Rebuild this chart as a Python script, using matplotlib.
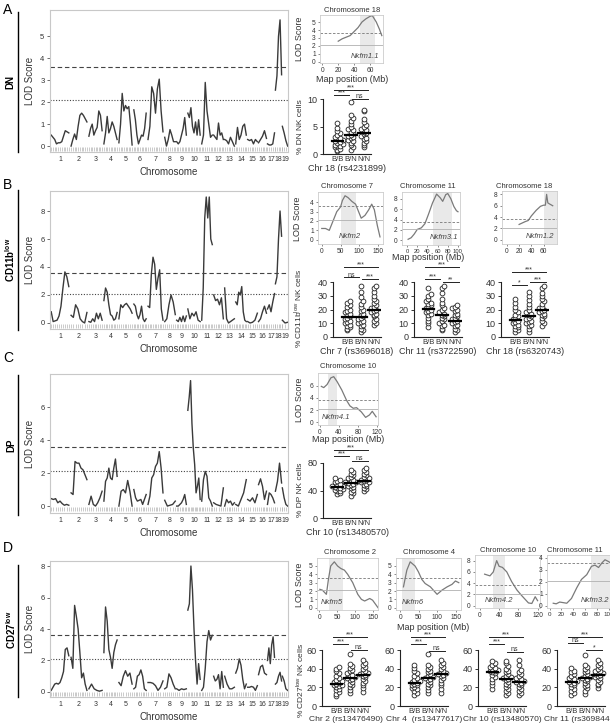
import numpy as np
import matplotlib.pyplot as plt
from matplotlib.lines import Line2D

plt.rcParams['font.family'] = ['Liberation Sans', 'DejaVu Sans']

# ---- genome scan data (LOD sampled evenly along each chromosome) ----
chrom_names = [str(i) for i in range(1, 20)]
chrom_size = [20, 18, 15, 15, 15, 14, 17, 12, 11, 14, 12, 11, 11, 12, 11, 9, 8, 7, 6]

dn_lod = [
    [0.5, 0.4, 0.3, 0.1, 0.15, 0.15, 0.2, 0.45, 0.7, 0.65, 0.6],
    [0.0, 0.3, 0.55, 0.3, 0.9, 1.4, 1.5, 1.4, 1.25, 1.1],
    [0.45, 0.8, 1.0, 0.5, 0.7, 0.85, 1.6, 1.4, 0.7],
    [0.1, 0.6, 1.35, 0.6, 0.8, 1.1, 0.9, 0.6, 0.3],
    [0.15, 1.0, 2.4, 1.6, 1.85, 1.7, 1.8, 1.0, 0.05],
    [1.65, 1.2, 0.5, 0.1, 0.3, 0.5, 0.45, 0.8, 1.5],
    [0.3, 0.9, 2.7, 2.4, 1.5, 2.6, 3.05, 1.6, 0.65],
    [0.4, 0.0, 0.3, 0.75, 0.5, 0.2, 0.2],
    [0.2, 0.1, 0.2, 0.5, 0.8, 1.3, 0.5],
    [1.5, 1.3, 1.75, 0.9, 0.6, 1.1, 0.5, 1.2, 0.5],
    [0.1, 0.5, 2.9, 1.6, 1.0, 0.4, 0.5],
    [0.5, 0.4, 0.3, 1.05, 0.5, 0.6, 0.3],
    [0.3, 0.25, 0.1, 0.4, 0.2, 0.0],
    [0.1, 0.85, 0.3, 0.5, 0.9, 1.0, 0.5],
    [0.3, 0.25, 0.3, 0.1, 0.3, 0.2],
    [0.15, 0.3, 0.45, 0.7, 0.35],
    [0.1, 0.05, 0.05, 0.1, 0.6],
    [2.55, 3.2, 5.0, 5.75, 3.25],
    [0.9, 0.6, 0.25, 0.0],
]

cd11b_lod = [
    [0.8, 0.1, 0.15, 0.2, 0.5, 1.2, 2.5, 3.65, 3.3, 2.6],
    [0.55, 0.4, 1.3, 1.0, 0.3, 0.1, 0.0, 0.75],
    [0.1, 0.05, 0.3, 0.1, 0.7, 0.3, 0.7, 0.2],
    [1.6, 2.5, 2.2, 1.3, 0.6, 0.5, 0.2, 0.3, 0.75],
    [0.3, 1.3, 1.1, 1.3, 1.4, 1.2, 1.0, 0.7],
    [1.35, 1.2, 0.6, 0.3, 0.6, 1.2, 0.3, 0.1, 0.3],
    [1.2, 1.1, 3.5, 4.7, 4.2, 2.4, 3.2, 3.8, 1.0, 0.2],
    [0.1, 0.3, 1.3, 2.0, 1.5, 0.6],
    [0.2, 0.1, 0.4, 0.1, 0.5, 0.1, 0.5],
    [1.0, 0.3, 0.7, 0.5, 0.8, 0.2, 0.1],
    [0.2, 2.5, 7.5, 9.0, 7.5, 9.0, 6.0, 5.6],
    [2.0, 1.6, 1.7, 1.3, 1.8, 0.3],
    [2.5, 0.3, 0.0, 0.1, 0.2, 0.3],
    [1.5, 1.3, 2.2, 2.0, 2.6, 0.8, 0.2, 0.1],
    [0.1, 0.0, 0.05, 0.2, 0.7],
    [0.1, 0.3, 0.8, 1.2, 0.7],
    [1.0, 1.3, 0.8, 1.5, 2.1],
    [2.8, 3.3, 6.0, 8.0, 6.2],
    [0.2, 0.0, 0.05],
]

dp_lod = [
    [0.45, 0.4, 0.45, 0.2, 0.3, 0.15, 0.05, 0.1, 0.05],
    [0.8, 0.7, 2.7, 2.6, 2.6, 2.3, 2.2, 1.9, 1.6],
    [0.1, 0.6, 0.1, 0.0, 0.2, 0.5, 0.9],
    [0.3, 1.5, 1.7, 2.3, 1.7, 1.6, 2.3, 2.85, 1.8],
    [0.0, 0.9, 1.0, 0.8, 1.55, 0.9, 0.0],
    [1.0, 0.5, 0.3, 0.35, 0.4, 0.1, 0.4, 0.7],
    [0.1, 0.6, 1.7, 1.9, 2.4, 2.6, 3.3, 2.3, 0.8],
    [0.35, 0.0, 0.05, 0.1, 0.3],
    [0.0, 0.0, 0.1, 0.2, 0.4, 0.7, 0.1],
    [5.8, 6.6, 7.6, 5.0, 3.5, 2.5, 0.8, 1.2, 1.7, 0.4],
    [0.3, 1.6, 2.1, 1.8, 0.5, 0.3, 0.0],
    [0.2, 0.1, 0.05, 0.0, 1.1],
    [0.0, 0.4, 0.2, 0.3, 0.05, 0.2],
    [0.1, 0.0, 0.4, 0.8, 1.6],
    [0.4, 0.3, 0.5, 0.2, 0.7],
    [1.3, 1.65, 1.2, 0.4, 0.9],
    [0.1, 0.8, 0.7, 0.5, 0.2],
    [0.9, 1.5, 2.6, 1.4],
    [1.1, 0.5, 0.1, 0.0],
]

cd27_lod = [
    [0.1, 0.3, 0.5, 0.55, 0.5, 0.6, 0.9, 1.3, 2.7, 2.8, 2.3],
    [2.2, 1.5, 5.5, 4.8, 4.0, 2.5, 0.9, 1.2, 0.5, 0.1],
    [0.2, 0.5, 0.2, 0.1, 0.05, 0.1],
    [2.5, 5.4, 4.5, 2.7, 2.2, 1.5, 2.5, 3.0, 3.3],
    [0.6, 0.4, 1.0, 1.35, 1.0, 1.2, 0.5],
    [0.2, 0.3, 1.0, 1.1, 1.4, 1.0, 0.2, 0.1],
    [0.6, 0.6, 0.55, 0.4, 0.1, 0.3, 0.7],
    [0.2, 0.3, 1.15, 0.9, 0.5, 0.2],
    [0.2, 0.1, 0.2, 0.15, 0.2],
    [5.2, 5.6, 8.0, 6.5, 4.0, 2.0, 0.5, 1.8, 0.8],
    [0.1, 0.3, 1.5, 3.2, 3.9, 3.3, 3.6],
    [1.0, 0.7, 0.8, 1.1, 0.2, 1.3, 0.3],
    [1.0, 0.5, 0.2, 0.2, 0.3],
    [1.2, 1.5, 2.1, 1.7, 0.8, 0.2, 0.5],
    [0.3, 0.3, 0.35, 0.3, 0.1, 0.4],
    [1.1, 1.6, 1.7, 1.2, 1.1],
    [2.0, 2.8, 1.8, 3.0, 3.5, 2.2],
    [0.5, 0.6, 1.0, 1.25, 0.7],
    [1.0, 0.7, 0.2, 0.1],
]

# ---- single-chromosome LOD profiles (Mb, LOD) ----
a18_pos = [20, 25, 30, 35, 40, 45, 50, 55, 60, 63, 68, 72, 75]
a18_lod = [2.6, 2.9, 3.1, 3.3, 3.8, 4.3, 5.0, 5.4, 5.7, 5.8, 5.0, 4.1, 3.3]
b7_pos = [0, 10, 20, 30, 40, 50, 55, 62, 70, 80, 90, 100, 105, 115, 125, 133, 140, 148, 155]
b7_lod = [1.2, 1.2, 1.0, 2.0, 3.0, 3.5, 4.2, 4.7, 4.5, 4.1, 3.8, 2.8, 2.3, 2.6, 3.2, 3.8, 3.2, 1.5, 0.3]
b11_pos = [2, 8, 14, 20, 28, 35, 42, 50, 58, 65, 70, 76, 80, 86, 92, 97, 100]
b11_lod = [0.2, 0.5, 1.2, 2.1, 2.4, 3.2, 5.0, 7.2, 8.9, 8.2, 7.5, 8.8, 9.0, 8.0, 6.5, 5.7, 5.5]
b18_pos = [20, 30, 35, 40, 48, 55, 60, 63, 65, 67, 70, 75]
b18_lod = [2.7, 3.2, 3.4, 4.2, 5.2, 5.9, 6.1, 6.1, 8.0, 6.5, 6.3, 6.0]
c10_pos = [3, 8, 15, 23, 29, 36, 46, 56, 63, 70, 77, 87, 96, 104, 110, 118]
c10_lod = [5.9, 5.7, 6.2, 7.3, 7.5, 6.7, 5.3, 3.6, 2.7, 2.3, 2.4, 1.7, 0.8, 1.2, 1.8, 0.9]
d2_pos = [2, 9, 20, 26, 32, 42, 51, 60, 70, 79, 93, 107, 117, 126, 140, 148, 158, 163]
d2_lod = [2.2, 2.1, 1.6, 3.5, 5.0, 5.5, 5.0, 4.7, 4.5, 4.0, 3.0, 1.6, 1.0, 0.8, 1.1, 0.9, 0.3, 0.0]
d4_pos = [9, 18, 27, 40, 49, 58, 67, 81, 99, 112, 126, 139, 148, 157]
d4_lod = [2.5, 4.5, 5.5, 5.0, 4.3, 3.4, 2.9, 2.5, 1.6, 2.1, 2.5, 2.8, 3.2, 3.0]
d10_pos = [10, 21, 28, 35, 40, 47, 56, 66, 77, 87, 101, 108, 115, 120]
d10_lod = [5.6, 5.3, 6.0, 8.0, 7.0, 6.8, 6.0, 4.3, 2.8, 1.8, 0.5, 0.4, 1.6, 0.9]
d11_pos = [6, 11, 17, 23, 29, 37, 46, 54, 63, 71, 77, 83, 89, 94, 100, 103]
d11_lod = [0.2, 0.15, 0.3, 0.25, 0.2, 0.6, 1.5, 2.2, 2.6, 3.3, 3.4, 3.2, 3.6, 3.85, 3.7, 3.6]

# ---- percentages per genotype (B/B, B/N, N/N) ----
genotypes = ['B/B', 'B/N', 'N/N']
a_dn = [[0.5, 0.8, 1.0, 1.2, 1.4, 1.5, 1.7, 1.9, 2.0, 2.2, 2.3, 2.5, 2.7, 2.9, 3.1, 3.4, 3.8, 4.2, 4.8, 5.6],
        [0.8, 1.2, 1.6, 2.0, 2.3, 2.6, 2.9, 3.1, 3.3, 3.5, 3.8, 4.0, 4.3, 4.6, 5.0, 5.4, 6.0, 6.6, 7.1, 9.5],
        [1.2, 1.6, 2.0, 2.4, 2.7, 3.0, 3.3, 3.6, 3.8, 4.0, 4.3, 4.6, 4.9, 5.3, 5.8, 6.4, 7.8, 8.0]]
a_dn_mean = [2.3, 3.5, 3.9]
b7_pct = [[5, 6, 7, 8, 9, 10, 11, 12, 13, 14, 15, 16, 17, 18, 19, 20, 22, 23, 25, 26],
          [4, 5, 6, 8, 9, 10, 11, 12, 13, 14, 15, 16, 17, 19, 20, 22, 24, 26, 29, 33, 37],
          [9, 10, 12, 13, 15, 16, 17, 18, 19, 20, 21, 22, 23, 25, 26, 28, 30, 33, 36, 37]]
b7_mean = [14.5, 14.5, 19.5]
b11_pct = [[7, 10, 12, 14, 16, 17, 18, 19, 20, 21, 22, 23, 24, 25, 26, 28, 30, 31, 36],
           [5, 6, 8, 9, 10, 12, 13, 14, 15, 16, 17, 18, 20, 21, 23, 25, 28, 32, 36, 37],
           [4, 5, 6, 8, 9, 10, 11, 12, 13, 14, 15, 16, 17, 19, 20, 21, 22, 23]]
b11_mean = [20.5, 16, 12]
b18_pct = [[4, 5, 6, 7, 8, 9, 10, 11, 12, 13, 14, 15, 16, 18, 20, 22, 25, 28],
           [4, 6, 8, 9, 10, 11, 12, 13, 14, 15, 16, 17, 18, 20, 22, 24, 27, 30, 33],
           [8, 10, 12, 14, 15, 16, 17, 18, 19, 20, 21, 22, 24, 26, 28, 30, 32, 36, 37]]
b18_mean = [12.5, 15, 20]
c_dp = [[35, 37, 39, 40, 41, 42, 43, 44, 45, 46, 47, 48, 50, 52, 54, 56, 58],
        [32, 36, 38, 41, 43, 45, 47, 48, 50, 51, 52, 53, 55, 56, 58, 60, 62, 64, 67, 70],
        [40, 42, 44, 46, 48, 50, 52, 53, 54, 55, 56, 58, 60, 62, 64, 67, 70, 73]]
c_dp_mean = [45, 51, 54]
d2_pct = [[11, 13, 15, 17, 18, 20, 21, 22, 23, 24, 25, 26, 27, 28, 30, 32, 35, 38, 40, 42],
          [14, 17, 20, 22, 24, 26, 28, 29, 30, 31, 32, 33, 35, 37, 39, 41, 43, 45, 56],
          [15, 19, 22, 25, 27, 29, 31, 32, 33, 34, 35, 36, 38, 40, 42, 44, 46, 49]]
d2_mean = [24, 30, 33]
d4_pct = [[12, 14, 16, 18, 19, 20, 22, 23, 24, 25, 26, 27, 28, 30, 32, 35, 38, 41, 44],
          [14, 17, 20, 22, 24, 26, 28, 29, 30, 31, 32, 34, 36, 38, 40, 42, 44, 56],
          [14, 18, 22, 25, 28, 30, 32, 33, 34, 35, 36, 38, 40, 42, 44, 46, 49]]
d4_mean = [25, 30, 34]
d10_pct = [[18, 22, 26, 29, 31, 33, 35, 36, 37, 38, 39, 40, 41, 42, 44, 46, 48],
           [12, 14, 16, 18, 20, 22, 24, 26, 28, 29, 30, 31, 32, 34, 36, 38, 40, 43, 46, 48],
           [12, 14, 16, 18, 20, 22, 24, 25, 26, 27, 28, 29, 30, 32, 34, 36, 39, 44, 49]]
d10_mean = [36, 29, 26]
d11_pct = [[12, 14, 16, 18, 20, 22, 24, 25, 26, 27, 28, 29, 30, 32, 34, 36, 38, 41],
           [13, 16, 19, 21, 23, 25, 27, 28, 29, 30, 31, 32, 34, 36, 38, 40, 42, 44, 55],
           [19, 22, 24, 26, 28, 30, 31, 32, 33, 34, 35, 36, 37, 38, 40, 42, 44, 46, 49]]
d11_mean = [26, 30, 33]

W, H = 610, 724
fig = plt.figure(figsize=(W / 100, H / 100), dpi=100)
TXT = '#333333'


def box(l, t, r, b):
    return fig.add_axes([l / W, 1 - b / H, (r - l) / W, (b - t) / H])


def ftext(x, y, s, **kw):
    kw.setdefault('ha', 'center')
    kw.setdefault('va', 'center')
    kw.setdefault('color', TXT)
    fig.text(x / W, 1 - y / H, s, **kw)


def vline(x, y0, y1):
    fig.add_artist(Line2D([x / W, x / W], [1 - y0 / H, 1 - y1 / H], color='k', lw=1.0))


def genome(t, b, lods, ylim, yticks, rug_y):
    ax = box(50, t, 288, b)
    starts = np.concatenate([[0], np.cumsum(chrom_size)[:-1]])
    for s, w, vals in zip(starts, chrom_size, lods):
        x = s + w * np.linspace(0.06, 0.94, len(vals))
        ax.plot(x, vals, color='#3a3a3a', lw=1.0)
        ax.plot(x, [rug_y] * len(x), '|', color='#b5b5b5', ms=3, mew=0.5)
    ax.axhline(3.6, color='#444444', lw=0.8, ls=(0, (4, 2.5)))
    ax.axhline(2.1, color='#444444', lw=0.8, ls=(0, (1, 1.5)))
    ax.set_xlim(0, sum(chrom_size))
    ax.set_ylim(ylim)
    ax.set_yticks(yticks)
    ax.set_xticks(starts + np.array(chrom_size) / 2, chrom_names)
    ax.tick_params(axis='x', length=0, pad=3, labelsize=5.0, colors=TXT)
    ax.tick_params(axis='y', length=2, pad=2, labelsize=5.5, colors=TXT, width=0.5)
    for sp in ax.spines.values():
        sp.set_color('#c8c8c8')
        sp.set_linewidth(0.8)
    ax.set_xlabel('Chromosome', fontsize=7, labelpad=3, color=TXT)
    ftext(30, (t + b) / 2, 'LOD Score', rotation=90, fontsize=7)
    return ax


def lod_plot(rect, pos, lod, xlim, ylim, xticks, yticks, shade, name, name_x, name_ha,
             tick_size=4.8):
    ax = box(*rect)
    ax.axvspan(shade[0], shade[1], color='#e9e9e9', lw=0)
    ax.plot(pos, lod, color='#7a7a7a', lw=0.9)
    ax.axhline(3.6, color='#777777', lw=0.6, ls=(0, (3, 2)))
    ax.axhline(2.1, color='#b0b0b0', lw=0.6)
    ax.set_xlim(xlim)
    ax.set_ylim(ylim)
    ax.set_xticks(xticks)
    ax.set_yticks(yticks)
    ax.tick_params(length=1.5, pad=1.5, labelsize=4.8, colors=TXT, width=0.4)
    ax.tick_params(axis='x', labelsize=tick_size)
    for sp in ax.spines.values():
        sp.set_color('#cccccc')
        sp.set_linewidth(0.6)
    ax.text(name_x, ylim[0] + 0.07 * (ylim[1] - ylim[0]), name, fontsize=5.5,
            style='italic', color='#444444', ha=name_ha, va='bottom')
    return ax


def swarm_offsets(vals, ymax):
    vals = np.asarray(vals, float)
    bins = np.floor(vals / (ymax / 15)).astype(int)
    steps = [0, 0.2, -0.2, 0.4, -0.4, 0.1, -0.1, 0.3, -0.3]
    offs = np.zeros(len(vals))
    count = {}
    for i in np.argsort(vals):
        k = count.get(bins[i], 0)
        offs[i] = steps[k % len(steps)]
        count[bins[i]] = k + 1
    return offs


def strip(l, t, b, groups, means, ymax, yticks, sig, sig_y, xlabel, xl_size=6.5):
    ax = box(l, t, l + 48, b)
    for i, (vals, m) in enumerate(zip(groups, means)):
        x = i + 1 + swarm_offsets(vals, ymax)
        ax.scatter(x, vals, s=12, facecolor='white', edgecolor='#222222', lw=0.6,
                   zorder=3, clip_on=False)
        ax.plot([i + 0.55, i + 1.45], [m, m], color='k', lw=1.6, zorder=4)
    ax.set_xlim(-0.1, 3.55)
    ax.set_ylim(0, ymax)
    ax.set_yticks(yticks)
    ax.set_xticks([1, 2, 3], genotypes)
    ax.tick_params(axis='x', length=0, pad=1.5, labelsize=5.5, colors=TXT)
    ax.tick_params(axis='y', length=2.5, pad=1.5, labelsize=6.5, colors=TXT, width=0.7)
    for side in ('top', 'right'):
        ax.spines[side].set_visible(False)
    for side in ('left', 'bottom'):
        ax.spines[side].set_color('#222222')
        ax.spines[side].set_linewidth(0.8)
    ax.set_xlabel(xlabel, fontsize=xl_size, labelpad=1, color=TXT)
    for (x0, x1), s, y in zip([(0.7, 3.3), (0.7, 1.9), (2.1, 3.3)], sig, sig_y):
        ax.plot([x0, x1], [y, y], color='#222222', lw=0.7, clip_on=False)
        ax.annotate(s, ((x0 + x1) / 2, y), xytext=(0, -1), textcoords='offset points',
                    ha='center', va='bottom', fontsize=5, color=TXT, annotation_clip=False)
    return ax


# ================= Panel A : DN =================
ftext(8, 10, 'A', fontsize=10, color='k')
vline(18, 12, 152)
ftext(10, 82, 'DN', rotation=90, fontsize=7, fontweight='bold', color='k')
genome(10, 152, dn_lod, (-0.27, 6.2), range(0, 6), -0.12)

lod_plot((320, 15, 383, 63), a18_pos, a18_lod, (-3, 76.5), (-0.125, 5.875),
         [0, 20, 40, 60], range(0, 6), (48, 66), 'Nkfm1.1', 72, 'right')
ftext(352, 10, 'Chromosome 18', fontsize=5.5)
ftext(352, 79, 'Map position (Mb)', fontsize=6.5)
ftext(300, 39, 'LOD Score', rotation=90, fontsize=6.5)

strip(323, 99, 154, a_dn, a_dn_mean, 10, [0, 5, 10], ['***', '***', 'ns'],
      [11.6, 10.7, 10.0], 'Chr 18 (rs4231899)')
ftext(301, 127, '% DN NK cells', rotation=90, fontsize=6)

# ================= Panel B : CD11b low =================
ftext(8, 185, 'B', fontsize=10, color='k')
vline(18, 190, 330)
ftext(10, 260, 'CD11b$^{\\mathregular{low}}$', rotation=90, fontsize=7, fontweight='bold', color='k')
genome(191, 329, cd11b_lod, (-0.43, 9.43), [0, 2, 4, 6, 8], -0.2)

lod_plot((318, 192, 383, 244), b7_pos, b7_lod, (-10, 163), (-0.46, 5.1),
         [0, 50, 100, 150], range(0, 5), (50, 90), 'Nkfm2', 75, 'center')
lod_plot((402, 192, 460, 245), b11_pos, b11_lod, (-10, 104), (-0.9, 9.3),
         [0, 20, 40, 60, 80, 100], [0, 2, 4, 6, 8], (51, 88), 'Nkfm3.1', 100, 'right',
         tick_size=4.2)
lod_plot((502, 191, 557, 244), b18_pos, b18_lod, (-8, 82), (-0.75, 8.6),
         [0, 20, 40, 60], [0, 2, 4, 6, 8], (60, 82), 'Nkfm1.2', 78, 'right')
ftext(347, 187, 'Chromosome 7', fontsize=5.5)
ftext(428, 187, 'Chromosome 11', fontsize=5.5)
ftext(524, 187, 'Chromosome 18', fontsize=5.5)
ftext(428, 257, 'Map position (Mb)', fontsize=6.5)
ftext(298, 219, 'LOD Score', rotation=90, fontsize=6.5)

strip(333, 282, 337, b7_pct, b7_mean, 40, [0, 10, 20, 30, 40], ['***', 'ns', '***'],
      [51, 43.5, 42], 'Chr 7 (rs3696018)')
strip(414, 282, 337, b11_pct, b11_mean, 40, [0, 10, 20, 30, 40], ['***', '***', '**'],
      [51, 42.5, 40], 'Chr 11 (rs3722590)')
strip(501, 282, 337, b18_pct, b18_mean, 40, [0, 10, 20, 30, 40], ['***', '*', '***'],
      [47, 38, 40], 'Chr 18 (rs6320743)')
ftext(298, 308, '% CD11b$^{\\mathregular{low}}$ NK cells', rotation=90, fontsize=6)

# ================= Panel C : DP =================
ftext(8, 358, 'C', fontsize=10, color='k')
vline(18, 375, 515)
ftext(11, 445, 'DP', rotation=90, fontsize=7, fontweight='bold', color='k')
genome(374, 513, dp_lod, (-0.42, 8.0), [0, 2, 4, 6], -0.2)

lod_plot((318, 373, 378, 425), c10_pos, c10_lod, (-4, 122), (-0.45, 8.1),
         [0, 40, 80, 120], [0, 2, 4, 6], (17, 35), 'Nkfm4.1', 4, 'left')
ftext(348, 367, 'Chromosome 10', fontsize=5.5)
ftext(348, 440, 'Map position (Mb)', fontsize=6.5)
ftext(299, 400, 'LOD Score', rotation=90, fontsize=6.5)

strip(323, 463, 518, c_dp, c_dp_mean, 80, [0, 40, 80], ['***', '***', 'ns'],
      [99, 90, 83], 'Chr 10 (rs13480570)')
ftext(300, 490, '% DP NK cells', rotation=90, fontsize=6)

# ================= Panel D : CD27 low =================
ftext(8, 548, 'D', fontsize=10, color='k')
vline(18, 565, 697)
ftext(11, 630, 'CD27$^{\\mathregular{low}}$', rotation=90, fontsize=7, fontweight='bold', color='k')
genome(561, 697, cd27_lod, (-0.32, 8.32), [0, 2, 4, 6, 8], -0.15)

lod_plot((317, 558, 378, 610), d2_pos, d2_lod, (-6, 163), (-0.28, 5.96),
         [0, 50, 100, 150], range(0, 6), (28, 65), 'Nkfm5', 5, 'left')
lod_plot((396, 558, 461, 610), d4_pos, d4_lod, (-11, 163), (-0.28, 5.96),
         [0, 50, 100, 150], range(0, 6), (6, 40), 'Nkfm6', 5, 'left')
lod_plot((475, 555, 540, 608), d10_pos, d10_lod, (-10, 125), (-0.4, 9.0),
         [0, 40, 80, 120], [0, 2, 4, 6, 8], (28, 52), 'Nkfm4.2', 10, 'left')
lod_plot((547, 555, 625, 608), d11_pos, d11_lod, (-4.6, 128), (-0.2, 4.25),
         [0, 20, 40, 60, 80, 100], range(0, 5), (71, 128), 'Nkfm3.2', 52, 'left',
         tick_size=4.5)
ftext(350, 553, 'Chromosome 2', fontsize=5.5)
ftext(429, 553, 'Chromosome 4', fontsize=5.5)
ftext(508, 551, 'Chromosome 10', fontsize=5.5)
ftext(575, 551, 'Chromosome 11', fontsize=5.5)
ftext(433, 627, 'Map position (Mb)', fontsize=6.5)
ftext(300, 585, 'LOD Score', rotation=90, fontsize=6.5)

strip(322, 650, 706, d2_pct, d2_mean, 60, [0, 20, 40, 60], ['***', '***', 'ns'],
      [74, 66, 60], 'Chr 2 (rs13476490)', 6.1)
strip(400, 650, 706, d4_pct, d4_mean, 60, [0, 20, 40, 60], ['***', '***', 'ns'],
      [74, 66, 59], 'Chr 4  (rs13477617)', 6.1)
strip(478, 650, 706, d10_pct, d10_mean, 60, [0, 20, 40, 60], ['***', '***', 'ns'],
      [74, 66, 58], 'Chr 10 (rs13480570)', 6.1)
strip(557, 650, 706, d11_pct, d11_mean, 60, [0, 20, 40, 60], ['***', 'ns', '*'],
      [74, 68, 60], 'Chr 11 (rs3698443)', 6.1)
ftext(300, 680, '% CD27$^{\\mathregular{low}}$ NK cells', rotation=90, fontsize=6)

fig.savefig('out.png', dpi=100)
